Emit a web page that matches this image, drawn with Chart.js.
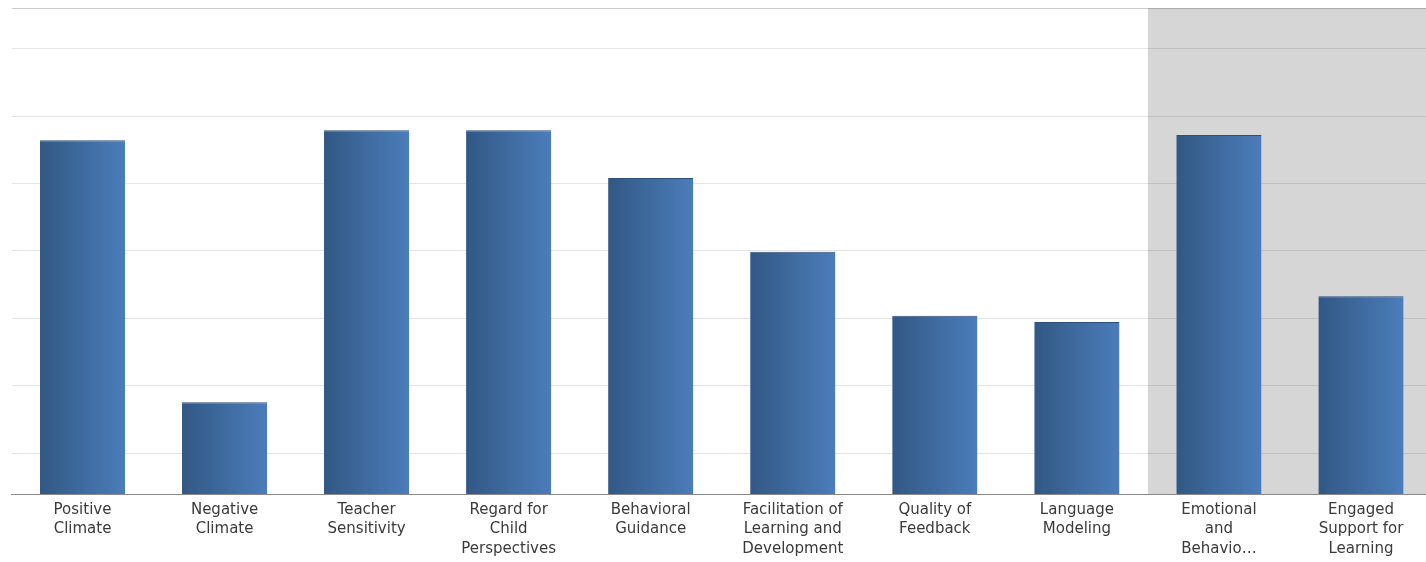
<!DOCTYPE html>
<html>
<head>
<meta charset="utf-8">
<script src="https://cdn.jsdelivr.net/npm/chart.js@4.4.1/dist/chart.umd.min.js"></script>
<style>
  html, body { margin: 0; padding: 0; background: #fff; overflow: hidden; }
  #wrap { width: 1432px; height: 562px; position: relative; }
</style>
</head>
<body>
<div id="wrap"><canvas id="classChart"></canvas></div>
<script>
const categories = [
    ['Positive', 'Climate'],
    ['Negative', 'Climate'],
    ['Teacher', 'Sensitivity'],
    ['Regard for', 'Child', 'Perspectives'],
    ['Behavioral', 'Guidance'],
    ['Facilitation of', 'Learning and', 'Development'],
    ['Quality of', 'Feedback'],
    ['Language', 'Modeling'],
    ['Emotional', 'and', 'Behavio…'],
    ['Engaged', 'Support for', 'Learning']
];
const scores = [5.64, 1.76, 5.79, 5.79, 5.08, 3.99, 3.04, 2.95, 5.72, 3.33];
const gridTicks = [1, 2, 3, 4, 5, 6, 7, 7.6];
const shadedFrom = 8; // index of first category in grey band

// grey band behind the domain scores
const shadeBand = {
    id: 'shadeBand',
    beforeDraw(chart) {
        const {ctx, chartArea, scales} = chart;
        const half = (scales.x.getPixelForValue(1) - scales.x.getPixelForValue(0)) / 2;
        const left = scales.x.getPixelForValue(shadedFrom) - half;
        ctx.save();
        ctx.fillStyle = '#d6d6d6';
        ctx.fillRect(left, chartArea.top, chartArea.right - left, chartArea.bottom - chartArea.top);
        ctx.restore();
    }
};

// horizontal gradient on every bar
const barGradient = {
    id: 'barGradient',
    beforeDatasetsDraw(chart) {
        const ctx = chart.ctx;
        chart.getDatasetMeta(0).data.forEach((bar) => {
            const g = ctx.createLinearGradient(bar.x - bar.width / 2, 0, bar.x + bar.width / 2, 0);
            g.addColorStop(0, '#325884');
            g.addColorStop(1, '#4b7dba');
            bar.options.backgroundColor = g;
        });
    }
};

new Chart(document.getElementById('classChart'), {
    type: 'bar',
    data: {
        labels: categories,
        datasets: [{
            data: scores,
            backgroundColor: () => '#3f6aa0',
            borderColor: '#2c4f7c',
            borderWidth: {top: 1, left: 0, right: 0, bottom: 0},
            borderSkipped: 'bottom',
            barPercentage: 0.6,
            categoryPercentage: 1
        }]
    },
    options: {
        responsive: true,
        maintainAspectRatio: false,
        animation: false,
        layout: {padding: {left: 11.5, right: 0, top: 8, bottom: 0}},
        plugins: {
            legend: {display: false},
            tooltip: {enabled: false}
        },
        scales: {
            x: {
                afterFit: (scale) => { scale.height = 68; },
                grid: {display: false, drawTicks: false},
                border: {display: true, color: '#8a8a8a', width: 1},
                ticks: {
                    color: '#3a3a3a',
                    maxRotation: 0,
                    autoSkip: false,
                    padding: 6,
                    font: {family: "'DejaVu Sans', Verdana, sans-serif", size: 15, lineHeight: 1.3}
                }
            },
            y: {
                min: 0.4,
                max: 7.6,
                afterBuildTicks: (scale) => {
                    scale.ticks = gridTicks.map(v => ({value: v}));
                },
                grid: {
                    color: (c) => c.tick && c.tick.value === 7.6 ? 'rgba(0,0,0,0.2)' : 'rgba(0,0,0,0.1)',
                    drawTicks: false
                },
                border: {display: false},
                ticks: {display: false}
            }
        }
    },
    plugins: [shadeBand, barGradient]
});
</script>
</body>
</html>
